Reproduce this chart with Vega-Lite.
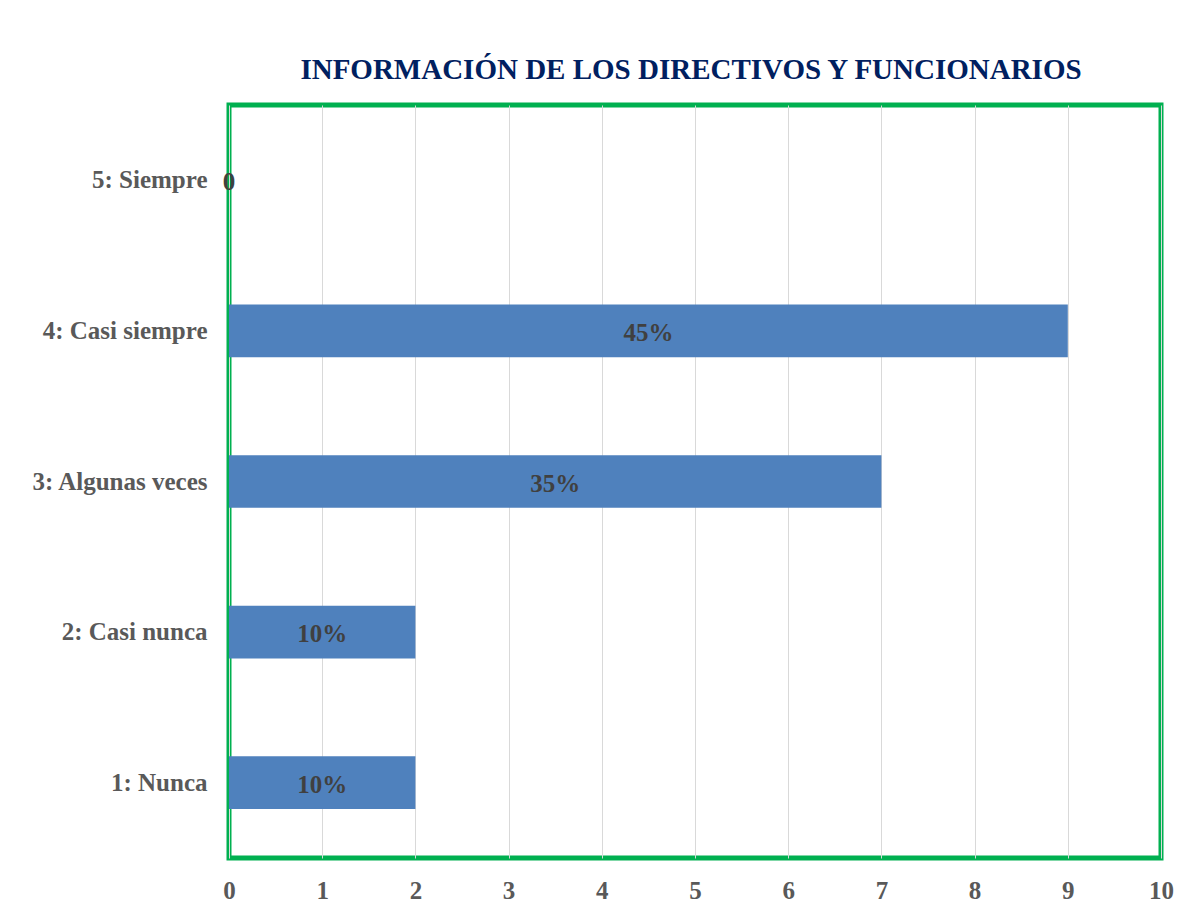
{
  "$schema": "https://vega.github.io/schema/vega-lite/v6.json",
  "width": 932,
  "height": 753,
  "autosize": {"type": "none"},
  "padding": {"left": 229, "top": 105, "right": 33, "bottom": 56},
  "background": "white",
  "title": {
    "text": "INFORMACIÓN DE LOS DIRECTIVOS Y FUNCIONARIOS",
    "font": "Liberation Serif",
    "fontSize": 29,
    "fontWeight": "bold",
    "color": "#002060",
    "anchor": "middle",
    "dx": -4,
    "offset": -3,
    "baseline": "alphabetic"
  },
  "config": {
    "view": {"stroke": "#00B050", "strokeWidth": 5},
    "font": "Liberation Serif",
    "axisX": {
      "title": null,
      "domain": false,
      "ticks": false,
      "labelOverlap": false,
      "gridColor": "#D9D9D9",
      "gridWidth": 1,
      "labelFont": "Liberation Serif",
      "labelFontSize": 25,
      "labelFontWeight": "bold",
      "labelColor": "#595959",
      "labelPadding": 20,
      "labelFlush": false
    }
  },
  "data": {
    "values": [
      {"categoria": "5: Siempre", "valor": 0, "etiqueta": "0"},
      {"categoria": "4: Casi siempre", "valor": 9, "etiqueta": "45%"},
      {"categoria": "3: Algunas veces", "valor": 7, "etiqueta": "35%"},
      {"categoria": "2: Casi nunca", "valor": 2, "etiqueta": "10%"},
      {"categoria": "1: Nunca", "valor": 2, "etiqueta": "10%"}
    ]
  },
  "transform": [{"calculate": "datum.valor / 2", "as": "centro"}],
  "encoding": {
    "y": {
      "field": "categoria",
      "type": "nominal",
      "sort": null,
      "scale": {"paddingInner": 0.65, "paddingOuter": 0.325},
      "axis": {
        "title": null,
        "domain": false,
        "ticks": false,
        "grid": false,
        "labelFont": "Liberation Serif",
        "labelFontSize": 25,
        "labelFontWeight": "bold",
        "labelColor": "#595959",
        "labelPadding": 22
      }
    }
  },
  "layer": [
    {
      "mark": {"type": "bar", "color": "#4F81BD"},
      "encoding": {
        "x": {
          "field": "valor",
          "type": "quantitative",
          "title": null,
          "scale": {"domain": [0, 10], "nice": false},
          "axis": {"values": [0, 1, 2, 3, 4, 5, 6, 7, 8, 9, 10], "format": "d", "tickCount": 20}
        }
      }
    },
    {
      "mark": {
        "type": "text",
        "font": "Liberation Serif",
        "fontSize": 25,
        "fontWeight": "bold",
        "color": "#404040",
        "align": "center",
        "baseline": "middle",
        "dy": 2
      },
      "encoding": {
        "x": {
          "field": "centro",
          "type": "quantitative",
          "title": null,
          "axis": {"values": [0, 1, 2, 3, 4, 5, 6, 7, 8, 9, 10], "format": "d", "tickCount": 20}
        },
        "text": {"field": "etiqueta"}
      }
    }
  ]
}
